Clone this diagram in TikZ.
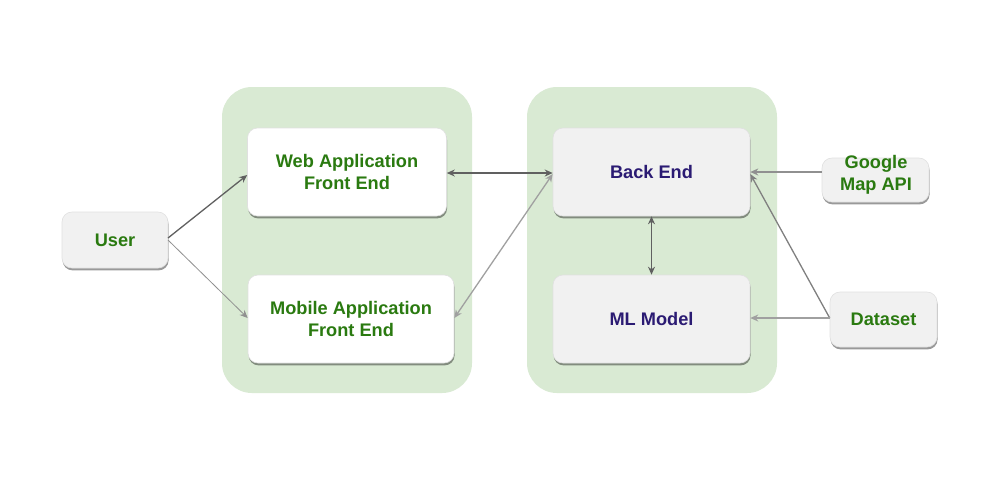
\documentclass[tikz,border=0pt]{standalone}
\usepackage{fontspec}
\setmainfont{Liberation Sans}
\usetikzlibrary{shadows,arrows.meta}
\definecolor{grp}{HTML}{D9EAD3}
\definecolor{txtg}{HTML}{2A7A10}
\definecolor{txtb}{HTML}{2B1B73}
\definecolor{boxg}{HTML}{F1F1F1}
\definecolor{ln}{HTML}{606060}
\tikzset{
  group/.style={fill=grp, draw=none, rounded corners=15pt},
  box/.style={draw=black!12, line width=0.3pt, fill=boxg, rounded corners=5pt, align=center,
    font=\fontsize{9.1}{11}\selectfont\bfseries, text=txtg,
    drop shadow={shadow xshift=0.3pt, shadow yshift=-1.2pt, opacity=0.4, fill=black}},
  wbox/.style={box, fill=white},
  bluetext/.style={text=txtb},
  conn/.style={draw=ln, line width=0.65pt, -{Stealth[length=4pt,width=3.5pt]}},
  conn2/.style={draw=ln, line width=0.65pt, {Stealth[length=4pt,width=3.5pt]}-{Stealth[length=4pt,width=3.5pt]}},
  lconn/.style={conn, draw=black!25, line width=0.4pt},
}
\begin{document}
\begin{tikzpicture}[x=0.5pt,y=-0.5pt]
\useasboundingbox (0,0) rectangle (1000,484);
\fill[white] (0,0) rectangle (1000,484);
\path[group] (222,87) rectangle (472,393);
\path[group] (527,87) rectangle (777,393);
\node[box, minimum width=53pt, minimum height=28pt] (user) at (115,240) {User};
\node[wbox, minimum width=99.5pt, minimum height=44pt] (web) at (347,172) {Web Application\\Front End};
\node[wbox, minimum width=103pt, minimum height=44pt] (mob) at (351,319) {Mobile Application\\Front End};
\node[box, bluetext, minimum width=98.5pt, minimum height=44pt] (be) at (651.5,172) {Back End};
\node[box, bluetext, minimum width=98.5pt, minimum height=44pt] (ml) at (651.5,319) {ML Model};
\node[box, minimum width=53.5pt, minimum height=22pt, inner sep=0pt] (gm) at (875.5,180) {};
\node[font=\fontsize{9.1}{11}\selectfont\bfseries, text=txtg, align=center, inner sep=0pt] (gmt) at (876,175) {Google\\Map API};
\node[box, minimum width=53.5pt, minimum height=27.5pt] (ds) at (883.5,319.5) {Dataset};
\coordinate (u1) at (168,238);
\coordinate (u2) at (168,240);
\draw[conn] (u1) -- (web.west |- 0,175);
\draw[lconn, draw=ln!70] (u2) -- (mob.west |- 0,318);
\draw[conn2] (web.east |- 0,173) -- (be.west |- 0,173);
\draw[conn2, draw=ln!60] (mob.east |- 0,318) -- (be.west |- 0,174);
\draw[conn2] (be.south) -- (ml.north);
\draw[conn, draw=ln!70] (gm.west |- 0,172) -- (be.east |- 0,172);
\draw[conn, draw=ln!80] (ds.west |- 0,318) -- (be.east |- 0,174);
\draw[conn, draw=ln!60] (ds.west |- 0,318) -- (ml.east |- 0,318);
\end{tikzpicture}
\end{document}
